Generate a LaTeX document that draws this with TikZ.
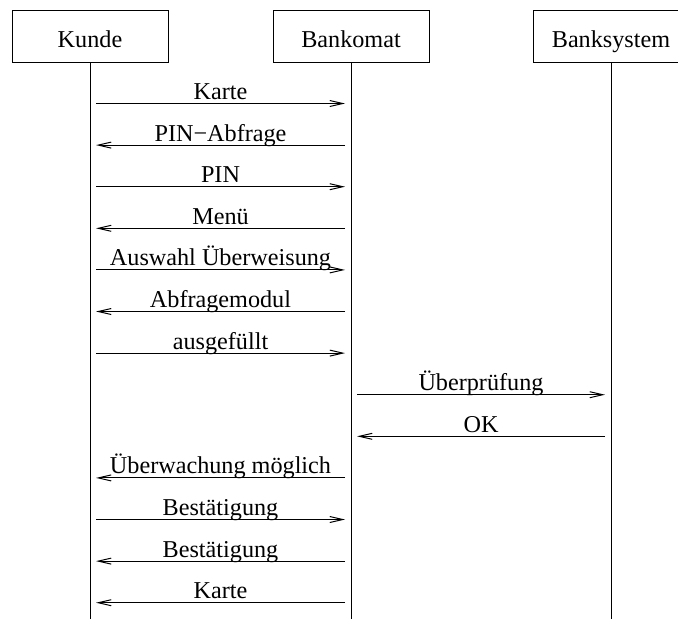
\documentclass[tikz,border=0pt]{standalone}
\usepackage{fontspec}
\setmainfont{Liberation Serif}
\usetikzlibrary{arrows.meta}
\tikzset{
  actor/.style={draw=black, line width=0.5pt, minimum width=78pt, minimum height=26pt,
    inner sep=0pt, text height=11pt, text depth=0pt, font=\fontsize{12.1}{14}\selectfont},
  lifeline/.style={draw=black, line width=0.5pt},
  msg/.style={draw=black, line width=0.5pt, -{Straight Barb[length=6.5pt,width=3pt]},
    shorten <=3pt, shorten >=3pt},
  lbl/.style={anchor=base, yshift=2pt, inner sep=0pt, font=\fontsize{12.1}{14}\selectfont}
}
\begin{document}
\begin{tikzpicture}[x=0.5pt,y=-0.5pt]
\useasboundingbox (0,0) rectangle (678,618);
\clip (0,0) rectangle (678,618);
\node[actor] (kunde) at (90,36) {Kunde};
\node[actor] (bankomat) at (351,36) {Bankomat};
\node[actor] (banksystem) at (611,36) {Banksystem};
\coordinate (kend) at (90,620);
\coordinate (bend) at (351,620);
\coordinate (send) at (611,620);
\draw[lifeline] (kunde.south) -- (kend);
\draw[lifeline] (bankomat.south) -- (bend);
\draw[lifeline] (banksystem.south) -- (send);
\foreach \i in {1,...,13}{
  \pgfmathsetmacro{\yy}{103.5+41.6*(\i-1)}
  \coordinate (K\i) at (90,\yy);
  \coordinate (B\i) at (351,\yy);
  \coordinate (S\i) at (611,\yy);
}
\draw[msg] (K1) -- node[lbl] {Karte} (B1);
\draw[msg] (B2) -- node[lbl] {PIN−Abfrage} (K2);
\draw[msg] (K3) -- node[lbl] {PIN} (B3);
\draw[msg] (B4) -- node[lbl] {Menü} (K4);
\draw[msg] (K5) -- node[lbl] {Auswahl Überweisung} (B5);
\draw[msg] (B6) -- node[lbl] {Abfragemodul} (K6);
\draw[msg] (K7) -- node[lbl] {ausgefüllt} (B7);
\draw[msg] (B8) -- node[lbl] {Überprüfung} (S8);
\draw[msg] (S9) -- node[lbl] {OK} (B9);
\draw[msg] (B10) -- node[lbl] {Überwachung möglich} (K10);
\draw[msg] (K11) -- node[lbl] {Bestätigung} (B11);
\draw[msg] (B12) -- node[lbl] {Bestätigung} (K12);
\draw[msg] (B13) -- node[lbl] {Karte} (K13);
\end{tikzpicture}
\end{document}
